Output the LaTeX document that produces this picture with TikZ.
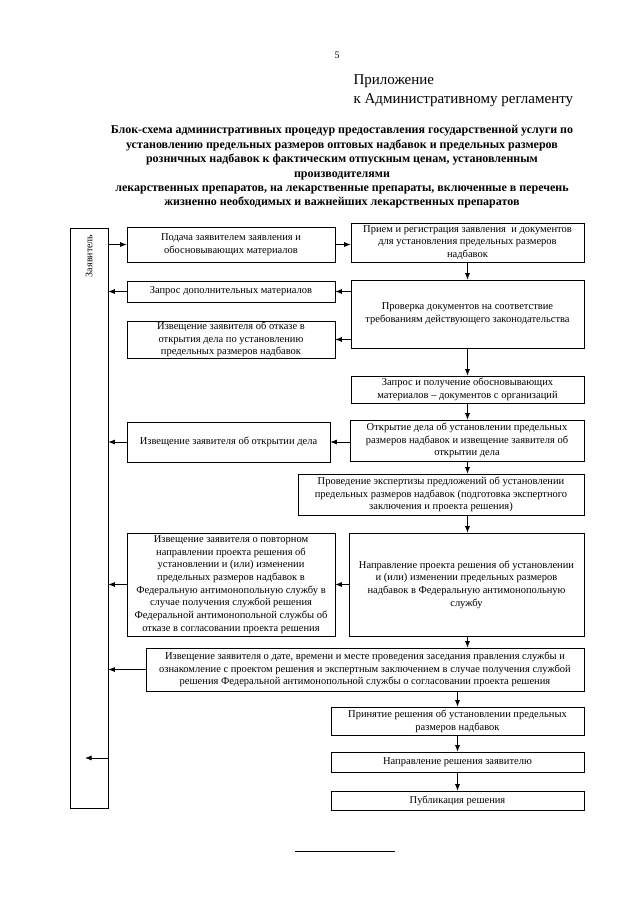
\documentclass[tikz,border=0pt]{standalone}
\usepackage{fontspec}
\setmainfont{Liberation Serif}
\usetikzlibrary{arrows.meta}
\newcommand\mybox[6]{\node[box,minimum width={#4-#2},minimum height={#5-#3}] (#1) at ({(#2+#4)/2},{(#3+#5)/2}) {#6};}
\begin{document}
\begin{tikzpicture}[x=1pt,y=-1pt,
  box/.style={draw,line width=0.7pt,inner sep=0pt,align=center,font=\fontsize{10.5}{12.7}\selectfont},
  arr/.style={line width=0.8pt,-{Latex[length=6.5pt,width=5pt]}}]
\useasboundingbox (0,0) rectangle (640,905);
\fill[white] (0,0) rectangle (640,905);

\node[font=\fontsize{10}{12}\selectfont] (pnum) at (337,55) {5};
\node[anchor=west,align=left,font=\fontsize{15}{19}\selectfont] (pril) at (350,91) {Приложение\\к Административному регламенту};
\node[align=center,font=\bfseries\fontsize{12}{14.4}\selectfont] (title) at (342,167) {Блок-схема административных процедур предоставления государственной услуги по\\установлению предельных размеров оптовых надбавок и предельных размеров\\розничных надбавок к фактическим отпускным ценам, установленным\\производителями\\лекарственных препаратов, на лекарственные препараты, включенные в перечень\\жизненно необходимых и важнейших лекарственных препаратов};

\mybox{zayav}{70}{228}{108}{808}{}
\node[rotate=90,anchor=east,font=\fontsize{10}{12}\selectfont] (zlab) at (89,231) {Заявитель};

\mybox{podacha}{127}{227}{335}{262}{Подача заявителем заявления и\\обосновывающих материалов}
\mybox{priem}{351}{223}{584}{262}{Прием и регистрация заявления \ и документов\\для установления предельных размеров\\надбавок}
\mybox{zapros}{127}{281}{335}{302}{Запрос дополнительных материалов}
\mybox{proverka}{351}{280}{584}{348}{Проверка документов на соответствие\\требованиям действующего законодательства}
\mybox{otkaz}{127}{321}{335}{358}{Извещение заявителя об отказе в\\открытия дела по установлению\\предельных размеров надбавок}
\mybox{zaprosorg}{351}{376}{584}{403}{Запрос и получение обосновывающих\\материалов -- документов с организаций}
\mybox{izvotkr}{127}{422}{330}{462}{Извещение заявителя об открытии дела}
\mybox{otkrytie}{350}{420}{584}{461}{Открытие дела об установлении предельных\\размеров надбавок и извещение заявителя об\\открытии дела}
\mybox{proved}{298}{474}{584}{515}{Проведение экспертизы предложений об установлении\\предельных размеров надбавок (подготовка экспертного\\заключения и проекта решения)}
\mybox{povtor}{127}{533}{335}{636}{Извещение заявителя о повторном\\направлении проекта решения об\\установлении и (или) изменении\\предельных размеров надбавок в\\Федеральную антимонопольную службу в\\случае получения службой решения\\Федеральной антимонопольной службы об\\отказе в согласовании проекта решения}
\mybox{napr}{349}{533}{584}{636}{Направление проекта решения об установлении\\и (или) изменении предельных размеров\\надбавок в Федеральную антимонопольную\\службу}
\mybox{izvdata}{146}{648}{584}{691}{Извещение заявителя о дате, времени и месте проведения заседания правления службы и\\ознакомление с проектом решения и экспертным заключением в случае получения службой\\решения Федеральной антимонопольной службы о согласовании проекта решения}
\mybox{prin}{331}{707}{584}{735}{Принятие решения об установлении предельных\\размеров надбавок}
\mybox{naprresh}{331}{752}{584}{772}{Направление решения заявителю}
\mybox{publ}{331}{791}{584}{810}{Публикация решения}

% horizontal connectors
\draw[arr] (zayav.east |- podacha.west) -- (podacha.west);
\draw[arr] (podacha.east) -- (podacha.east -| priem.west);
\draw[arr] (zapros.east -| proverka.west) -- (zapros.east);
\draw[arr] (otkaz.east -| proverka.west) -- (otkaz.east);
\draw[arr] (zapros.west) -- (zapros.west -| zayav.east);
\draw[arr] (izvotkr.east -| otkrytie.west) -- (izvotkr.east);
\draw[arr] (izvotkr.west) -- (izvotkr.west -| zayav.east);
\draw[arr] (povtor.east -| napr.west) -- (povtor.east);
\draw[arr] (povtor.west) -- (povtor.west -| zayav.east);
\draw[arr] (izvdata.west) -- (izvdata.west -| zayav.east);
\coordinate (zin) at (85,758);
\draw[arr] (zayav.east |- zin) -- (zin);

% vertical connectors
\draw[arr] (priem.south) -- (proverka.north);
\draw[arr] (proverka.south) -- (zaprosorg.north);
\draw[arr] (zaprosorg.south) -- (otkrytie.north -| zaprosorg.south);
\draw[arr] (otkrytie.south -| priem.south) -- (proved.north -| priem.south);
\draw[arr] (proved.south -| priem.south) -- (napr.north -| priem.south);
\draw[arr] (napr.south -| priem.south) -- (izvdata.north -| priem.south);
\draw[arr] (izvdata.south -| prin.north) -- (prin.north);
\draw[arr] (prin.south) -- (naprresh.north);
\draw[arr] (naprresh.south) -- (publ.north);

\draw[line width=0.7pt] (295,851) -- (395,851);
\end{tikzpicture}
\end{document}
